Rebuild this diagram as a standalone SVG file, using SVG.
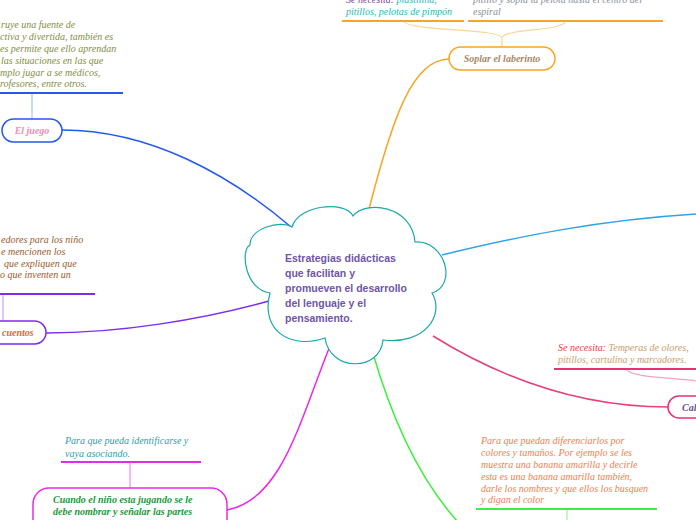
<svg xmlns="http://www.w3.org/2000/svg" width="696" height="520" viewBox="0 0 696 520">
<style>
.t{font-family:"Liberation Serif","Times New Roman",serif;font-style:italic;font-size:10px}
.nt{font-family:"Liberation Serif","Times New Roman",serif;font-style:italic;font-weight:bold;font-size:10px}
.c{fill:none;stroke-width:1.5}
.bar{fill:none;stroke-width:2.2}
.lk{fill:none;stroke-width:1.2}
.node{fill:#fff;stroke-width:1.5}
</style>
<rect width="696" height="520" fill="#fff"/>
<g id="connectors">
  <path class="c" stroke="#2457ee" d="M62,130 C150,130 230,175 291,227"/>
  <path class="c" stroke="#7a2cf0" d="M46,333 C120,333 200,320 269,301"/>
  <path class="c" stroke="#f5a623" d="M449,59 C412,59 392,120 369,209"/>
  <path class="c" stroke="#2ea3ea" d="M442,255 C520,236 600,220 696,214"/>
  <path class="c" stroke="#e8407a" d="M433,336 C520,390 600,407 668,407"/>
  <path class="c" stroke="#e82ae8" d="M330,346 C300,420 282,500 227,510"/>
  <path class="c" stroke="#3ef03e" d="M372,350 C392,420 420,480 458,522"/>
  <path class="lk" stroke="#a9c0f8" d="M32,93 V119"/>
  <path class="lk" stroke="#c0a6f8" d="M3,294 V321"/>
  <path class="lk" stroke="#fbd59a" d="M403,21 C410,32 500,28 502,38 V47 M566,21 C562,32 504,28 502,38"/>
  <path class="lk" stroke="#f5a0c0" d="M626,369 C630,378 680,378 696,381"/>
  <path class="lk" stroke="#f08cf0" d="M130,462 V488"/>
  <path class="lk" stroke="#a0f0a0" d="M567,509 V520"/>
  <path class="bar" stroke="#2457ee" d="M0,93 H123"/>
  <path class="bar" stroke="#7a2cf0" d="M0,294 H95"/>
  <path class="bar" stroke="#f5a623" d="M342,21 H464 M468,21 H663"/>
  <path class="bar" stroke="#e8326e" d="M554,369 H696"/>
  <path class="bar" stroke="#e82ae8" d="M61,462 H201"/>
  <path class="bar" stroke="#3ef03e" d="M476,509 H657"/>
</g>
<g id="center">
  <path fill="#fff" stroke="#1aa8a8" stroke-width="1.2" d="M292,227 C298,205 345,200 353,216 C365,200 412,205 415,242 C445,240 458,285 432,293 C445,315 425,345 383,340 C380,372 330,372 325,338 C290,350 260,330 270,293 C245,290 240,250 250,245 C250,228 280,220 292,227 Z"/>
  <g font-family="'Liberation Sans',Arial,sans-serif" font-weight="bold" font-size="10.5" fill="#6f55a8">
    <text x="285" y="262">Estrategias didácticas</text>
    <text x="285" y="277">que facilitan y</text>
    <text x="285" y="292">promueven el desarrollo</text>
    <text x="285" y="307">del lenguaje y el</text>
    <text x="285" y="322">pensamiento.</text>
  </g>
</g>
<g id="juego">
  <rect class="node" stroke="#2457ee" x="2" y="119" width="60" height="23" rx="11.5"/>
  <text class="nt" x="32" y="134" text-anchor="middle" fill="#f08cb4">El juego</text>
  <g class="t" fill="#7f8f3f">
    <text x="1" y="28">ruye una fuente  de</text>
    <text x="0" y="40">ctiva y divertida, también es</text>
    <text x="0" y="52">es permite que ello aprendan</text>
    <text x="1" y="64">las situaciones en las que</text>
    <text x="0" y="76">mplo jugar  a se médicos,</text>
    <text x="0" y="87">rofesores, entre otros.</text>
  </g>
</g>
<g id="cuentos">
  <rect class="node" stroke="#7a2cf0" x="-20" y="321" width="66" height="23" rx="11.5"/>
  <text class="nt" x="2" y="336" fill="#e8643a">cuentos</text>
  <g class="t" fill="#9a5a2a">
    <text x="1" y="243">edores para los niño</text>
    <text x="1" y="255">e mencionen los</text>
    <text x="4" y="267">que expliquen que</text>
    <text x="0" y="278">o que inventen un</text>
  </g>
</g>
<g id="soplar">
  <rect class="node" stroke="#f5a623" x="449" y="47" width="106" height="23" rx="11.5"/>
  <text class="nt" x="502" y="62" text-anchor="middle" fill="#a98a66">Soplar el  laberinto</text>
  <text class="t" x="346" y="3"><tspan fill="#7a3fa0">Se necesita: </tspan><tspan fill="#2bb5b5">plastilina,</tspan></text>
  <text class="t" x="346" y="15" fill="#2bb5b5">pitillos, pelotas de pimpón</text>
  <g class="t" fill="#8a8f9a">
    <text x="473" y="3">pitillo y sopla la pelota hasta el centro del</text>
    <text x="473" y="15">espiral</text>
  </g>
</g>
<g id="cal">
  <rect class="node" stroke="#e8326e" x="668" y="396" width="60" height="22" rx="11"/>
  <text class="nt" x="682" y="411" fill="#6a4aa0">Cal</text>
  <text class="t" x="558" y="351"><tspan fill="#e8403a">Se necesita: </tspan><tspan fill="#c9a06a">Temperas de olores,</tspan></text>
  <text class="t" x="558" y="363" fill="#c9a06a">pitillos, cartulina y marcadores.</text>
</g>
<g id="cuando">
  <rect class="node" stroke="#e82ae8" x="33" y="488" width="194" height="50" rx="16"/>
  <g class="nt" fill="#1a9a3a">
    <text x="53" y="503">Cuando el niño esta jugando se le</text>
    <text x="53" y="515">debe nombrar y señalar  las partes</text>
  </g>
  <g class="t" fill="#2aa0a8">
    <text x="65" y="444">Para que pueda identificarse y</text>
    <text x="65" y="457">vaya asociando.</text>
  </g>
</g>
<g id="colores">
  <g class="t" fill="#f08050">
    <text x="481" y="444">Para que puedan diferenciarlos por</text>
    <text x="481" y="456">colores y  tamaños. Por ejemplo se les</text>
    <text x="481" y="468">muestra una banana amarilla  y decirle</text>
    <text x="481" y="480">esta es una banana amarilla también,</text>
    <text x="481" y="492">darle los nombres y que ellos los busquen</text>
    <text x="481" y="503">y digan el color</text>
  </g>
</g>
</svg>
